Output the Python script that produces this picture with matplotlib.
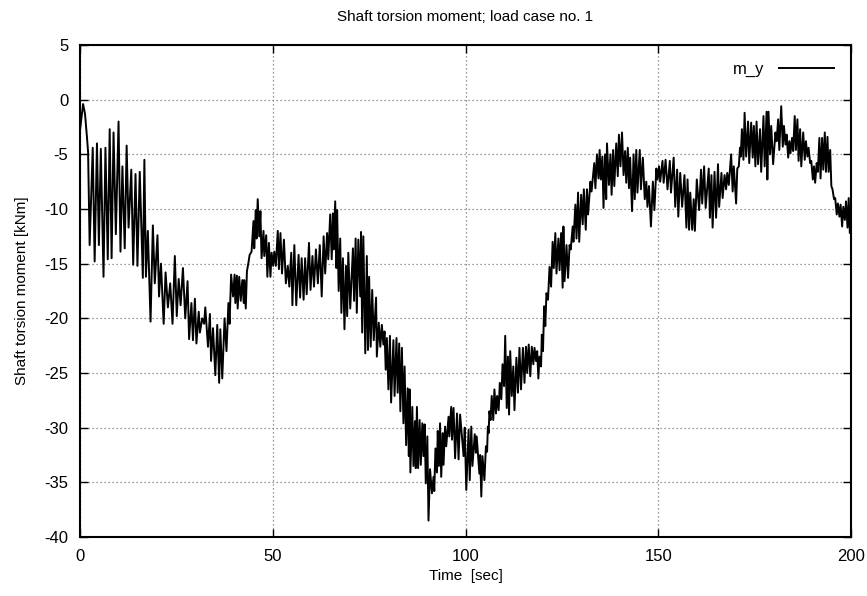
import matplotlib
matplotlib.use("Agg")
import matplotlib.pyplot as plt

# Shaft torsion moment time history (turning points of the oscillating signal)
time_s = [
    0.0, 0.4, 0.8, 1.3, 1.8, 2.1, 2.5, 3.3, 3.8, 4.4, 4.9, 5.4, 6.1, 6.6, 7.2, 7.7,
    8.2, 8.7, 9.3, 10.0, 10.5, 11.0, 11.6, 12.1, 12.6, 13.3, 13.8, 14.4, 14.9, 15.5,
    16.3, 16.7, 17.1, 17.6, 18.3, 18.9, 19.4, 20.1, 20.5, 21.0, 21.7, 22.2, 22.8,
    23.4, 24.0, 24.6, 25.1, 25.6, 26.1, 26.7, 27.3, 27.9, 28.3, 28.9, 29.3, 29.8,
    30.2, 30.8, 31.1, 31.7, 32.2, 32.5, 33.2, 33.7,
    34.0, 34.5, 35.1, 35.6, 36.1, 36.4, 36.9, 37.5, 38.0, 38.5, 38.8, 39.2, 39.7,
    40.1, 40.3, 40.7, 40.9, 41.3, 41.7, 42.1, 42.5, 42.6, 43.0, 43.3, 43.7, 44.0,
    44.5, 45.0, 45.2, 45.6, 45.8, 46.1, 46.5, 46.8, 47.1, 47.6, 47.8, 48.3, 48.6,
    49.0, 49.4, 49.7, 50.1, 50.4, 50.8, 51.3, 51.6, 52.0, 52.4, 52.9, 53.4, 53.9,
    54.3, 54.8, 55.1, 55.6, 56.1, 56.7, 57.1, 57.5, 58.0, 58.4, 58.8, 59.4, 59.8,
    60.3, 60.7, 61.2, 61.7, 62.2, 62.7, 63.2, 63.6, 64.1, 64.4, 64.9, 65.3, 65.6,
    65.8, 66.2, 66.5,
    66.7, 67.1, 67.5, 67.8, 68.2, 68.6, 69.0, 69.3, 69.6, 70.1, 70.8, 71.1, 71.5,
    71.8, 72.2, 72.7, 72.9, 73.2, 73.5, 74.0, 74.4, 74.7, 75.0, 75.4, 75.8, 76.2,
    76.8, 77.0, 77.5, 77.9, 78.3, 78.7, 79.0, 79.3, 79.6, 80.0, 80.4, 80.7, 81.3,
    81.6, 82.1, 82.4, 82.8, 83.1, 83.5, 83.9, 84.2, 84.6, 85.0, 85.3, 85.5, 85.7,
    86.2, 86.5, 86.9, 87.1, 87.4, 87.7, 88.1, 88.4, 88.8, 89.1, 89.4, 89.7, 90.1,
    90.4, 90.8, 91.3, 91.7, 91.9, 92.2, 92.6, 92.8, 93.1, 93.4, 93.7, 94.1, 94.3,
    94.7, 95.0, 95.6, 95.8, 96.3, 96.5, 96.9, 97.3, 97.8, 98.2, 98.6,
    99.5, 99.8, 100.2, 100.8, 101.1, 101.5, 101.8, 102.4, 102.7, 102.9, 103.6,
    103.8, 104.1, 104.4, 104.9, 105.3, 105.6, 105.8, 106.0, 106.2, 106.5, 106.8,
    107.2, 107.5, 107.9, 108.2, 108.6, 108.9, 109.3, 109.6, 110.0, 110.3, 110.7,
    111.0, 111.3, 111.6, 112.0, 112.4, 112.7, 113.2, 113.6, 114.0, 114.4, 114.9,
    115.3, 115.7, 116.0, 116.4, 116.8, 117.2, 117.6, 117.9, 118.3, 118.6, 118.9,
    119.2, 119.6, 119.8, 120.1, 120.4, 120.7, 121.0, 121.4, 121.8, 122.2, 122.6,
    122.9, 123.3, 123.6, 124.1, 124.4, 124.8, 125.2, 125.4, 125.7, 126.2, 126.6,
    127.0, 127.3, 127.8, 128.0, 128.5, 128.8, 129.2, 129.5, 130.0, 130.4, 130.7,
    131.2,
    131.5, 131.8, 132.4, 132.7, 133.4, 133.7, 134.1, 134.5, 134.8, 135.1, 135.5,
    135.8, 136.2, 136.5, 136.7, 137.2, 137.6, 137.9, 138.3, 138.6, 139.1, 139.5,
    139.8, 140.2, 140.6, 141.0, 141.4, 141.7, 142.1, 142.4, 142.7, 143.2, 143.6,
    143.9, 144.3, 144.6, 145.2, 145.5, 146.0, 146.5, 146.9, 147.2, 147.6, 148.1,
    148.6, 149.0, 149.5, 149.8, 150.2, 150.5, 151.1, 151.4, 151.9, 152.4, 153.0,
    153.3, 154.0, 154.4, 154.9, 155.2, 155.7, 156.2, 156.8, 157.3, 157.6, 158.0,
    158.3, 158.8, 159.2, 159.5, 160.0, 160.6, 161.1, 161.4, 161.9, 162.3,
    163.1, 163.4, 163.8, 164.1, 164.6, 165.0, 165.5, 165.8, 166.4, 166.7, 167.2,
    167.6, 167.9, 168.3, 168.9, 169.3, 169.6, 170.2, 170.5, 170.9, 171.2, 171.4,
    171.7, 172.1, 172.4, 172.8, 173.3, 173.6, 174.1, 174.5, 174.8, 175.2, 175.5,
    175.9, 176.4, 176.7, 177.3, 177.6, 178.1, 178.3, 178.6, 179.0, 179.3, 179.8,
    180.4, 180.7, 181.1, 181.4, 181.9, 182.3, 182.6, 183.0, 183.3, 183.7, 184.0,
    184.3, 184.7, 185.0, 185.4, 185.7, 186.1, 186.4, 186.8, 187.1, 187.6, 188.0,
    188.3, 188.7, 189.0, 189.4, 189.7, 190.1, 190.4, 190.7, 191.1, 191.4, 191.8,
    192.1, 192.5, 192.8, 193.2, 193.5, 193.9, 194.2, 194.6, 194.9, 195.2, 195.6,
    195.9, 196.3, 196.6, 197.0, 197.3, 197.7, 198.0, 198.4, 198.7, 199.1, 199.4,
    199.7, 200.0,
]

moment_kNm = [
    -2.8, -1.6, -0.4, -1.3, -3.4, -4.8, -13.3, -4.4, -14.8, -4.0, -13.3, -4.5, -16.2,
    -4.4, -14.6, -2.7, -14.5, -3.0, -12.3, -2.0, -13.9, -6.1, -13.6, -4.2, -11.7,
    -6.4, -15.1, -6.8, -15.2, -6.6, -16.3, -5.5, -16.2, -12.0, -20.3, -11.5, -16.8,
    -12.4, -18.0, -15.0, -20.5, -15.8, -19.0, -16.8, -20.5, -14.3, -19.8, -16.4,
    -18.8, -15.4, -20.0, -16.6, -21.9, -18.6, -22.0, -18.2, -22.3, -19.4, -21.3,
    -20.0, -20.5, -19.0, -22.6, -19.6,
    -23.9, -20.9, -25.2, -20.6, -25.9, -21.0, -25.5, -20.0, -23.0, -18.6, -20.5,
    -16.0, -18.0, -16.0, -18.6, -16.1, -19.1, -16.2, -18.4, -16.5, -18.6, -16.5,
    -19.1, -15.7, -14.9, -14.2, -13.9, -11.1, -13.6, -10.1, -12.7, -9.1, -12.5,
    -10.2, -14.5, -12.0, -14.3, -12.4, -16.2, -13.1, -16.2, -14.0, -15.2, -13.9,
    -15.2, -12.0, -15.5, -12.2, -15.9, -12.8, -16.8, -15.2, -17.1, -14.0, -18.8,
    -13.3, -18.8, -14.2, -18.1, -14.5, -18.3, -14.5, -17.8, -13.1, -17.4, -14.3,
    -17.1, -13.7, -16.8, -13.3, -18.0, -12.5, -15.9, -12.2, -14.6, -10.5, -14.6,
    -10.4, -13.7, -9.3, -15.4,
    -10.1, -17.5, -12.7, -19.5, -14.5, -21.0, -15.2, -19.8, -14.0, -19.1, -13.6,
    -18.4, -12.7, -19.5, -12.8, -18.0, -12.1, -21.3, -12.5, -23.2, -14.3, -22.9,
    -16.2, -22.6, -17.4, -22.0, -18.1, -23.5, -20.4, -22.6, -20.6, -22.4, -21.2,
    -24.7, -21.8, -26.5, -21.6, -27.7, -22.0, -27.1, -21.8, -26.8, -22.3, -28.5,
    -22.7, -29.6, -24.4, -31.6, -26.4, -32.6, -26.5, -34.1, -28.1, -33.5, -29.4,
    -33.7, -28.1, -33.7, -29.3, -33.4, -29.6, -32.6, -29.7, -35.1, -30.8, -38.5,
    -33.8, -36.0, -34.5, -35.8, -31.9, -34.1, -30.3, -33.5, -29.6, -34.5, -30.5,
    -33.4, -29.9, -31.7, -29.0, -30.8, -28.1, -31.1, -28.2, -32.8, -28.7, -32.9,
    -28.8,
    -32.6, -30.0, -35.7, -30.2, -34.8, -29.9, -33.5, -30.6, -32.3, -30.8, -34.2,
    -32.5, -36.3, -32.6, -34.8, -31.7, -32.2, -29.9, -30.5, -28.5, -29.3, -27.1,
    -29.3, -26.5, -28.7, -27.1, -28.4, -25.9, -27.4, -24.2, -26.2, -21.6, -28.2,
    -23.5, -28.8, -23.0, -27.1, -24.4, -28.4, -23.6, -26.8, -22.7, -26.5, -22.7,
    -25.9, -22.6, -25.0, -22.4, -25.3, -22.6, -24.2, -22.7, -23.9, -23.0, -25.5,
    -23.5, -24.4, -21.5, -23.0, -18.9, -20.7, -17.7, -18.3, -15.3, -17.1, -13.0,
    -15.4, -12.2, -15.9, -12.7, -15.6, -12.2, -17.2, -11.6, -16.6, -13.3, -16.3,
    -13.3, -13.7, -11.6, -13.0, -9.6, -12.7, -8.5, -13.0, -8.7, -11.4, -8.2,
    -11.9,
    -8.2, -10.5, -7.5, -8.4, -5.8, -8.1, -5.0, -7.2, -4.6, -7.3, -5.2,
    -9.9, -5.0, -9.1, -4.0, -7.8, -5.0, -8.7, -4.6, -7.9, -4.0, -7.0,
    -3.2, -6.1, -3.0, -6.9, -4.7, -7.6, -4.4, -8.1, -5.3, -10.2, -5.0,
    -9.1, -4.6, -8.5, -4.6, -8.2, -5.3, -9.1, -7.5, -9.8, -7.9, -11.6,
    -7.5, -10.1, -6.3, -7.3, -6.1, -7.5, -5.6, -7.6, -5.5, -8.2, -5.6,
    -8.5, -5.3, -9.8, -6.4, -10.7, -6.7, -9.8, -6.9, -11.7, -7.3, -11.9,
    -8.5, -11.9, -9.1, -12.0, -7.3, -10.1, -6.4, -9.5, -6.1, -9.9,
    -6.3, -10.8, -6.9, -11.7, -6.6, -10.8, -5.9, -9.8, -6.7, -9.0, -6.9,
    -8.2, -6.7, -7.8, -5.0, -8.4, -6.1, -9.5, -6.3, -6.1, -4.4, -5.2,
    -2.7, -5.5, -1.2, -5.2, -2.0, -5.8, -2.1, -5.3, -2.4, -6.1, -2.0,
    -5.9, -2.7, -6.6, -1.5, -6.1, -1.1, -7.3, -1.1, -5.0, -2.4, -5.9,
    -3.0, -3.8, -1.8, -4.6, -0.6, -4.3, -2.4, -4.1, -3.2, -5.3, -3.8,
    -4.9, -3.5, -4.7, -1.5, -4.6, -1.8, -5.6, -2.7, -6.1, -3.0, -5.5,
    -3.8, -5.2, -4.4, -5.8, -5.6, -7.3, -6.1, -7.6, -5.8, -6.6, -3.5,
    -7.2, -3.5, -6.4, -3.0, -6.6, -3.4, -6.6, -4.6, -7.9, -8.2, -9.1,
    -9.0, -10.5, -9.5, -10.7, -9.6, -11.6, -9.8, -11.0, -9.3, -11.7, -9.0,
    -12.2, -10.4,
]

x_ticks = [0, 50, 100, 150, 200]
y_ticks = [5, 0, -5, -10, -15, -20, -25, -30, -35, -40]

plt.rcParams["font.family"] = ["Liberation Sans", "DejaVu Sans"]
plt.rcParams["axes.unicode_minus"] = False

fig = plt.figure(figsize=(8.67, 5.96), dpi=100)
ax = fig.add_axes([80 / 867, 1 - 537 / 596, 771 / 867, 492 / 596])

ax.plot(time_s, moment_kNm, color="black", lw=1.4, label="m_y")

ax.set_xlim(0, 200)
ax.set_ylim(-40, 5)
ax.set_xticks(x_ticks)
ax.set_yticks(y_ticks)
ax.set_xticklabels([str(t) for t in x_ticks])
ax.set_yticklabels([str(t) for t in y_ticks])

ax.grid(True, color="#777777", linestyle=(0, (1, 2.2)), linewidth=0.9)
ax.tick_params(direction="in", length=5.5, width=1.0, top=True, right=True,
               labelsize=12, colors="black")
ax.tick_params(axis="y", pad=8.5)
ax.tick_params(axis="x", pad=8.5)
for s in ax.spines.values():
    s.set_linewidth(1.5)

ax.set_title("Shaft torsion moment; load case no. 1", fontsize=11, pad=17)
ax.set_xlabel("Time  [sec]", fontsize=11, labelpad=4)
ax.set_ylabel("Shaft torsion moment [kNm]", fontsize=11, labelpad=11)

ax.legend(loc="upper right", frameon=False, markerfirst=False, fontsize=12,
          handlelength=3.3, borderaxespad=0.6, handletextpad=0.9)

fig.savefig("out.png", dpi=100)
